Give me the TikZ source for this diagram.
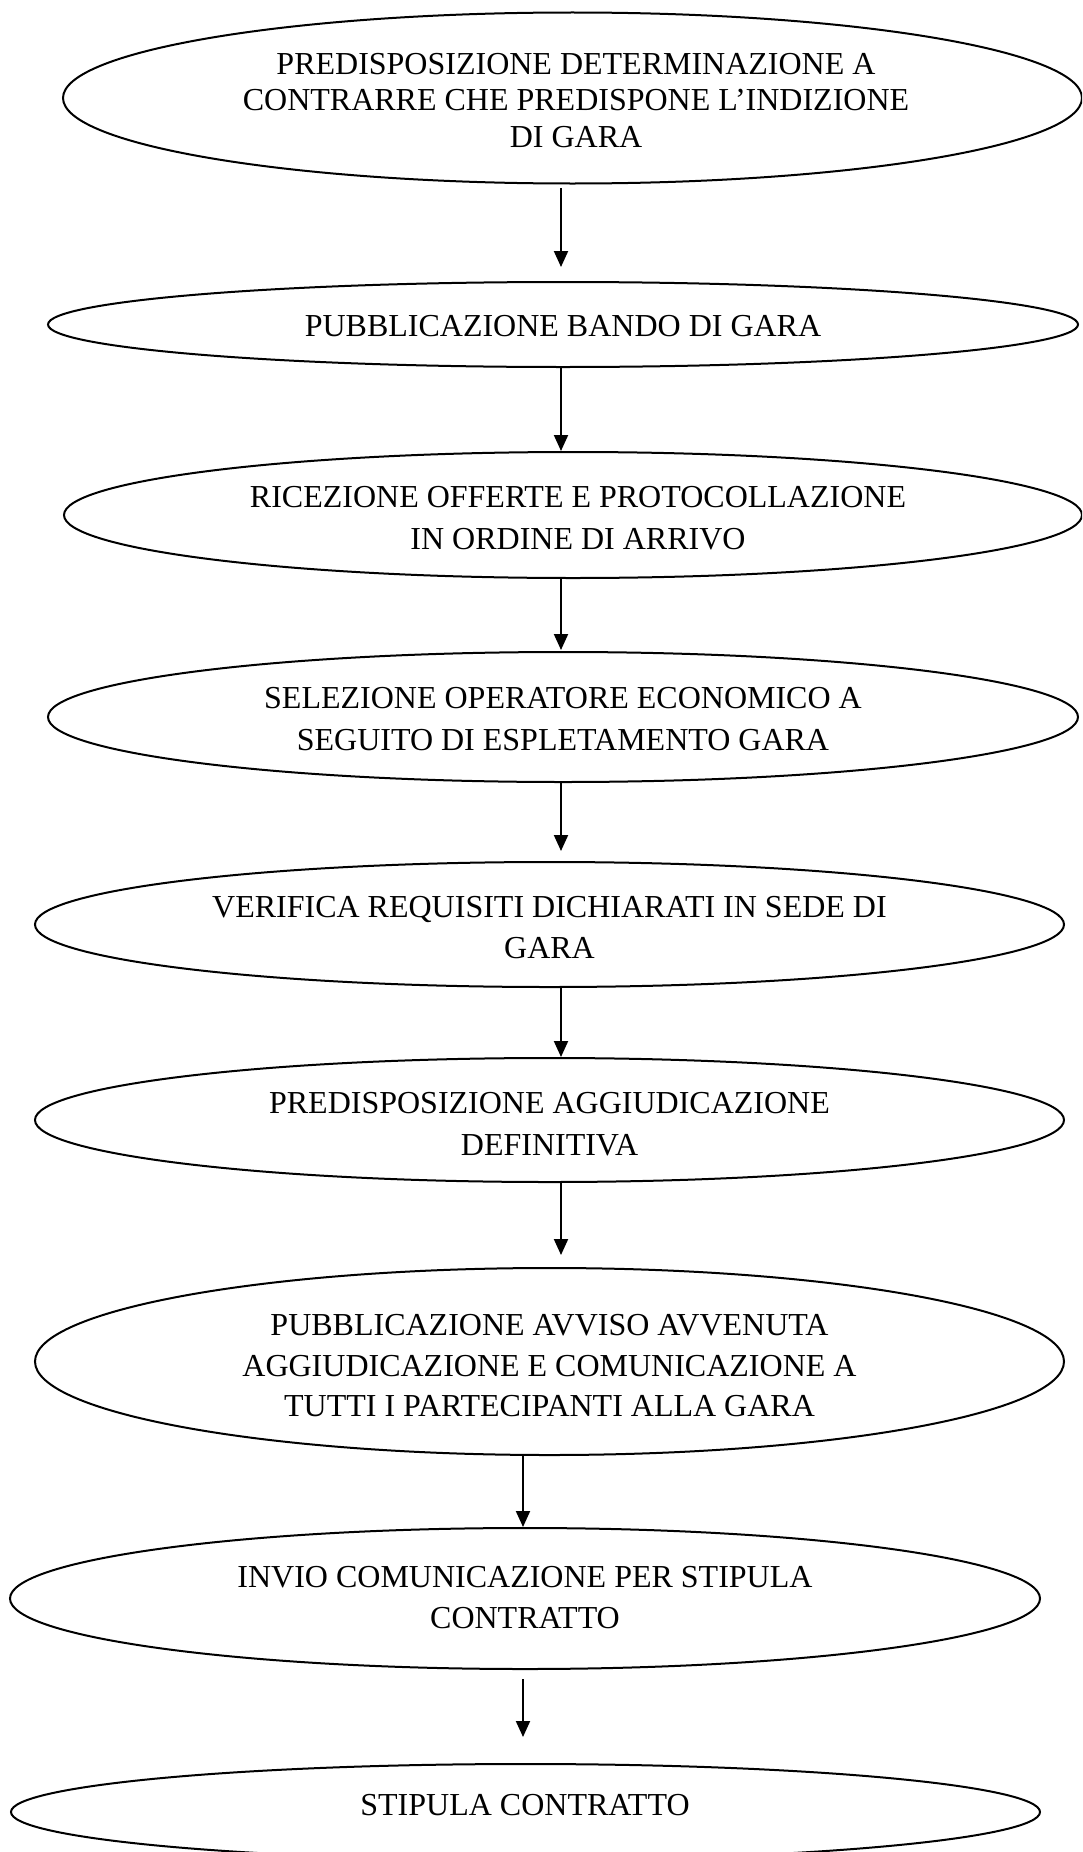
\documentclass[tikz,border=0pt]{standalone}
\usepackage{fontspec}
\setmainfont{Liberation Serif}
\usetikzlibrary{shapes.geometric,arrows.meta}
\tikzset{
  ell/.style={draw=black, line width=2pt, ellipse, inner sep=0pt, outer sep=0pt},
  lbl/.style={anchor=base, inner sep=0pt, font=\fontsize{32}{38}\selectfont},
  arr/.style={draw=black, line width=2pt, -{Triangle[length=16pt,width=14pt]}}
}
\begin{document}
\begin{tikzpicture}[x=1pt,y=-1pt]
\useasboundingbox (0,0) rectangle (1082,1852);
\clip (0,0) rectangle (1082,1852);
% ellipses
\node[ell, minimum width=1019pt, minimum height=171pt] (e1) at (572.5,98) {};
\node[ell, minimum width=1030pt, minimum height=85pt]  (e2) at (563,324.5) {};
\node[ell, minimum width=1018pt, minimum height=126pt] (e3) at (573,515) {};
\node[ell, minimum width=1030pt, minimum height=130pt] (e4) at (563,717) {};
\node[ell, minimum width=1029pt, minimum height=125pt] (e5) at (549.5,924.5) {};
\node[ell, minimum width=1029pt, minimum height=124pt] (e6) at (549.5,1120) {};
\node[ell, minimum width=1029pt, minimum height=187pt] (e7) at (549.5,1361.5) {};
\node[ell, minimum width=1030pt, minimum height=141pt] (e8) at (525,1598.5) {};
\node[ell, minimum width=1029pt, minimum height=96pt]  (e9) at (525.5,1812) {};
% texts
\node[lbl] (t1a) at (576,74.5) {PREDISPOSIZIONE DETERMINAZIONE A};
\node[lbl] (t1b) at (576,110.5) {CONTRARRE CHE PREDISPONE L’INDIZIONE};
\node[lbl] (t1c) at (576,147) {DI GARA};
\node[lbl] (t2a) at (563,336) {PUBBLICAZIONE BANDO DI GARA};
\node[lbl] (t3a) at (578,507) {RICEZIONE OFFERTE E PROTOCOLLAZIONE};
\node[lbl] (t3b) at (578,549) {IN ORDINE DI ARRIVO};
\node[lbl] (t4a) at (563,708) {SELEZIONE OPERATORE ECONOMICO A};
\node[lbl] (t4b) at (563,750) {SEGUITO DI ESPLETAMENTO GARA};
\node[lbl] (t5a) at (549.5,917) {VERIFICA REQUISITI DICHIARATI IN SEDE DI};
\node[lbl] (t5b) at (549.5,958) {GARA};
\node[lbl] (t6a) at (549.5,1113) {PREDISPOSIZIONE AGGIUDICAZIONE};
\node[lbl] (t6b) at (549.5,1155) {DEFINITIVA};
\node[lbl] (t7a) at (549.5,1335) {PUBBLICAZIONE AVVISO AVVENUTA};
\node[lbl] (t7b) at (549.5,1376) {AGGIUDICAZIONE E COMUNICAZIONE A};
\node[lbl] (t7c) at (549.5,1416) {TUTTI I PARTECIPANTI ALLA GARA};
\node[lbl] (t8a) at (525,1587) {INVIO COMUNICAZIONE PER STIPULA};
\node[lbl] (t8b) at (525,1628) {CONTRATTO};
\node[lbl] (t9a) at (525,1815) {STIPULA CONTRATTO};
% arrow end points
\coordinate (a1s) at (561,188);  \coordinate (a1e) at (561,267);
\coordinate (a2s) at (561,367);  \coordinate (a2e) at (561,451);
\coordinate (a3s) at (561,577);  \coordinate (a3e) at (561,650);
\coordinate (a4s) at (561,782);  \coordinate (a4e) at (561,851);
\coordinate (a5s) at (561,987);  \coordinate (a5e) at (561,1057);
\coordinate (a6s) at (561,1182); \coordinate (a6e) at (561,1255);
\coordinate (a7s) at (523,1455); \coordinate (a7e) at (523,1527);
\coordinate (a8s) at (523,1679); \coordinate (a8e) at (523,1737);
\draw[arr] (a1s) -- (a1e);
\draw[arr] (a2s) -- (a2e);
\draw[arr] (a3s) -- (a3e);
\draw[arr] (a4s) -- (a4e);
\draw[arr] (a5s) -- (a5e);
\draw[arr] (a6s) -- (a6e);
\draw[arr] (a7s) -- (a7e);
\draw[arr] (a8s) -- (a8e);
\end{tikzpicture}
\end{document}
